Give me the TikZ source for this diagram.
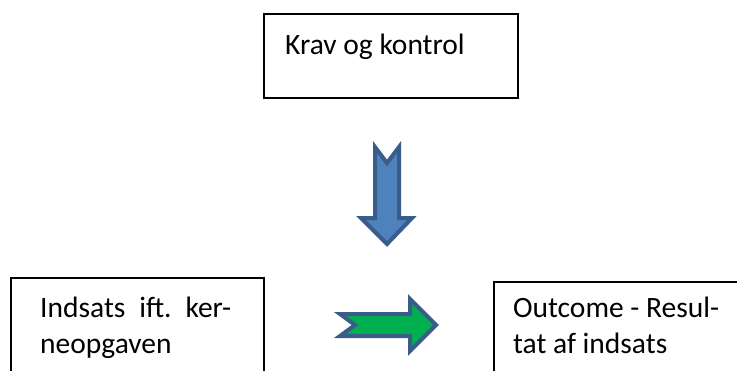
\documentclass[tikz,border=0pt]{standalone}
\usepackage{fontspec}
\setmainfont{Carlito}
\usetikzlibrary{positioning}

\definecolor{arrowedge}{HTML}{385D8A}
\definecolor{arrowblue}{HTML}{4F81BD}
\definecolor{arrowgreen}{HTML}{00B050}

\tikzset{
  box/.style={draw=black, line width=2pt, anchor=north west, inner sep=0pt},
  boxtext/.style={anchor=base west, inner sep=0pt, font=\fontsize{29.5}{36}\selectfont\frenchspacing, align=left},
  blockarrow/.style={draw=arrowedge, line width=4pt, line join=miter}
}
% first line of a justified paragraph
\newcommand{\fullline}[1]{\makebox[191pt][s]{#1}}

\begin{document}
\begin{tikzpicture}[x=1pt, y=-1pt]
            \useasboundingbox (0,0) rectangle (737,370);
            \clip (0,0) rectangle (737,370);
            \fill[white] (0,0) rectangle (737,370);

            % the three boxes
            \node[box, minimum width=254pt, minimum height=84pt] (krav) at (263,13) {};
            \node[box, minimum width=253pt, minimum height=110pt] (indsats) at (10,277) {};
            \node[box, minimum width=260pt, minimum height=110pt] (outcome) at (493,281) {};

            \node[boxtext] (kravtxt) at (285,54) {Krav og kontrol};
            \node[boxtext] (indsatstxt) at (40,317) {\fullline{Indsats ift. ker-}};
            \node[boxtext, below=0pt of indsatstxt.base west, anchor=base west, yshift=-36pt] (indsatstxt2) {neopgaven};
            \node[boxtext] (outcometxt) at (513,317) {Outcome - Resul-};
            \node[boxtext, below=0pt of outcometxt.base west, anchor=base west, yshift=-36pt] (outcometxt2) {tat af indsats};

            % notched block arrows
            \draw[blockarrow, fill=arrowblue] (375,147) -- (387,163) -- (399,147) -- (399,218)
                -- (412,218) -- (387,244) -- (361,218) -- (375,218) -- cycle;
            \draw[blockarrow, fill=arrowgreen] (340,314) -- (410,314) -- (410,299) -- (436,325)
                -- (410,351) -- (410,336) -- (340,336) -- (355,325) -- cycle;
        \end{tikzpicture}
\end{document}
